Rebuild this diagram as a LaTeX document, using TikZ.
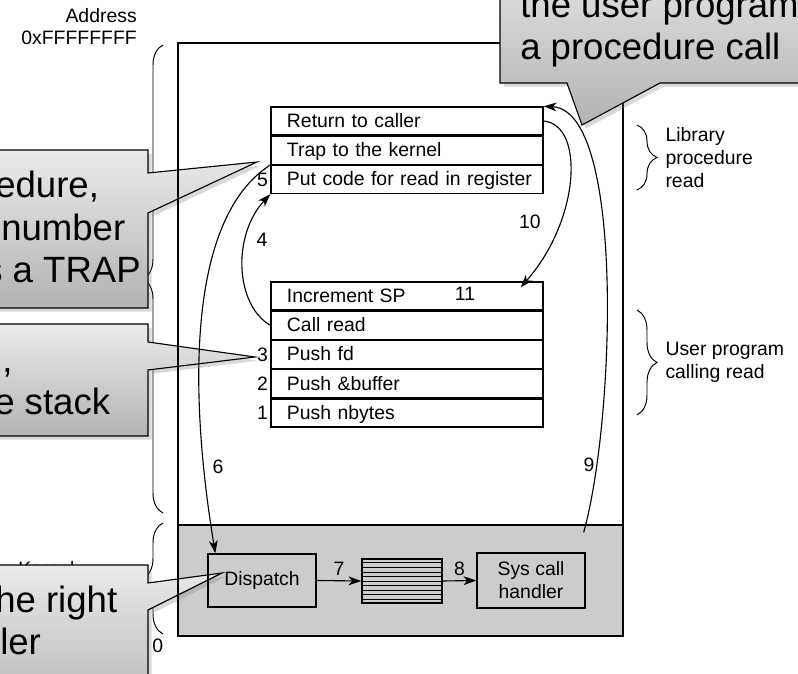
\documentclass[tikz,border=0pt]{standalone}
\usepackage{fontspec}
\setmainfont{Liberation Sans}
\usetikzlibrary{arrows.meta,calc,positioning,decorations.pathreplacing,shadows}
\newcommand{\figfont}{\fontsize{13.8}{16.3}\selectfont}
\newcommand{\callfont}{\fontsize{26}{30.5}\selectfont}
\tikzset{
  frame/.style={rectangle,draw,line width=0.9pt,minimum width=11.125cm,
    minimum height=14.825cm},
  kernel/.style={rectangle,draw,line width=0.9pt,fill=black!20,
    minimum width=11.125cm,minimum height=2.775cm},
  row/.style={rectangle,draw,line width=0.9pt,minimum height=0.7cm,
    text width=6.8cm,inner xsep=0pt,inner ysep=0pt,align=left,
    text height=11pt,text depth=2pt,font=\figfont,
    execute at begin node={\hspace*{0.4cm}}},
  kbox/.style={rectangle,draw,line width=0.9pt,align=center,font=\figfont},
  num/.style={font=\figfont,inner sep=1.5pt},
  lbl/.style={font=\figfont,inner sep=0pt,align=left},
  arr/.style={-{Stealth[length=3.2mm,width=2.2mm,inset=0.9mm]},line width=0.8pt},
  brc/.style={decorate,decoration={brace,amplitude=0.5cm},line width=0.7pt},
  % grey speech bubbles laid over the figure
  callout/.style={draw,line width=0.8pt,top color=black!8,bottom color=black!30,
    drop shadow={opacity=0.3}},
  calltext/.style={font=\callfont,align=left,inner sep=0pt,anchor=base west}
}
\begin{document}
\begin{tikzpicture}[x=0.025cm,y=-0.025cm]
  \useasboundingbox (0,0) rectangle (798,674);
  \node[kernel] (kern) at (400.5,580.5) {};
  % address space labels and braces
  \node[lbl,align=right,anchor=base east] (addr) at (137,45) {Address\\0xFFFFFFFF};
  \draw[brc] (163,513) -- (163,45);
  \draw[brc] (163,634) -- (163,523);
  \node[lbl,anchor=base west] (klab) at (18,576) {Kernel};
  \node[lbl,anchor=base west] (zero) at (152,653) {0};
  % callouts on the left
  \path[callout] (-60,150) -- (148,150) -- (148,173) -- (257,162) -- (148,213)
    -- (148,308) -- (-60,308) -- cycle;
  \node[calltext] (txtb) at (-5,283)
    {edure,\\\hspace*{0.15cm}number\\\hspace*{-0.275cm}s a TRAP};
  \path[callout] (-60,324) -- (148,324) -- (148,342) -- (255,357) -- (148,370)
    -- (148,436) -- (-60,436) -- cycle;
  \node[calltext] (txtc) at (-6,415) {\hspace*{0.2cm},\\e stack};
  \path[callout] (-60,565) -- (148,565) -- (148,583) -- (222,573) -- (148,610)
    -- (148,720) -- (-60,720) -- cycle;
  \node[calltext] (txtd) at (-5,655) {he right\\\hspace*{0.125cm}ler};
  % memory
  \node[frame] (mem) at (400.5,339.5) {};
  % library procedure read
  \node[row] (ret) at (407,121) {Return to caller};
  \node[row,below=0pt of ret] (trap) {Trap to the kernel};
  \node[row,below=0pt of trap] (put) {Put code for read in register};
  % user program calling read
  \node[row] (inc) at (407,296) {Increment SP};
  \node[row,below=0pt of inc] (call) {Call read};
  \node[row,below=0pt of call] (pfd) {Push fd};
  \node[row,below=0pt of pfd] (pbuf) {Push \&buffer};
  \node[row,below=0pt of pbuf] (pnb) {Push nbytes};
  \node[num,left] (n5) at (put.west) {5};
  \node[num,left] (n3) at (pfd.west) {3};
  \node[num,left] (n2) at (pbuf.west) {2};
  \node[num,left] (n1) at (pnb.west) {1};
  \node[num] (n11) at (465,294) {11};
  \draw[brc] (637,125) -- (637,190)
    node[lbl,midway,right=0.7cm] (libl) {Library\\procedure\\read};
  \draw[brc] (637,310) -- (637,415)
    node[lbl,midway,right=0.7cm] (usrl) {User program\\calling read};
  % kernel
  \node[kbox,minimum width=2.7cm,minimum height=1.325cm] (disp) at (262,580.5) {Dispatch};
  \node[kbox,minimum width=2cm,minimum height=1.1cm] (tbl) at (402,581) {};
  \foreach \k in {1,...,9}
    \draw[line width=0.6pt] ($(tbl.north west)!\k/10!(tbl.south west)$)
      -- ($(tbl.north east)!\k/10!(tbl.south east)$);
  \node[kbox,minimum width=2.7cm,minimum height=1.375cm] (sys) at (531,580.5) {Sys call\\handler};
  \draw[arr] (disp.east) -- (tbl.west) node[num,midway,above=2pt] (l7) {7};
  \draw[arr] (tbl.east) -- (sys.west) node[num,midway,above=2pt] (l8) {8};
  % the numbered steps
  \coordinate (dspin) at ($(disp.north west)+(8,0)$);
  \coordinate (sysret) at ($(kern.north east)+(-40,8)$);
  \coordinate (incin) at ($(inc.north east)+(-23,6)$);
  \draw[arr] (call.west) .. controls (235,305) and (232,235) .. (put.south west);
  \node[num] (l4) at (262,240) {4};
  \draw[arr] (trap.south west) .. controls (185,220) and (190,400) .. (dspin);
  \node[num] (l6) at (218,467) {6};
  \draw[arr] (sysret) .. controls (615,420) and (625,110) .. (ret.north east);
  \node[num] (l9) at (589,465) {9};
  \draw[arr] (ret.east) .. controls (585,125) and (580,220) .. (incin);
  \node[num] (l10) at (530,222) {10};
  % callout on the top right
  \path[callout] (500,-60) -- (860,-60) -- (860,83) -- (660,83) -- (582,125)
    -- (567,83) -- (500,83) -- cycle;
  \node[calltext] (txta) at (520,60) {the user program\\a procedure call};
\end{tikzpicture}
\end{document}
